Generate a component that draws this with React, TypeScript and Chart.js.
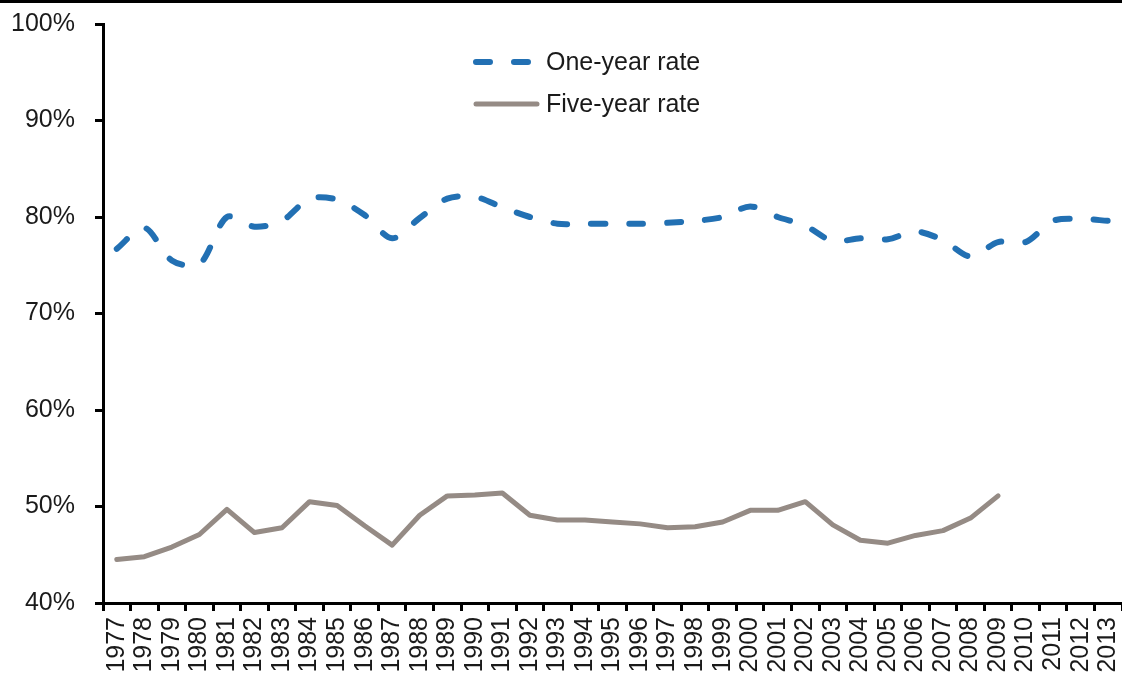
import React, { useEffect, useRef } from "react";
import { Chart, registerables } from "chart.js";

Chart.register(...registerables);

const years: string[] = [
  "1977","1978","1979","1980","1981","1982","1983","1984","1985","1986",
  "1987","1988","1989","1990","1991","1992","1993","1994","1995","1996",
  "1997","1998","1999","2000","2001","2002","2003","2004","2005","2006",
  "2007","2008","2009","2010","2011","2012","2013",
];

const oneYearRate: number[] = [
  76.7, 78.9, 75.5, 75.1, 80.0, 79.0, 79.6, 81.9, 81.8, 80.2,
  77.8, 79.9, 81.9, 82.1, 81.0, 80.0, 79.3, 79.3, 79.3, 79.3,
  79.4, 79.6, 80.0, 81.1, 80.0, 79.1, 77.5, 77.8, 77.7, 78.5,
  77.6, 75.9, 77.4, 77.4, 79.6, 79.8, 79.6,
];

const fiveYearRate: (number | null)[] = [
  44.5, 44.8, 45.8, 47.1, 49.7, 47.3, 47.8, 50.5, 50.1, 48.0,
  46.0, 49.1, 51.1, 51.2, 51.4, 49.1, 48.6, 48.6, 48.4, 48.2,
  47.8, 47.9, 48.4, 49.6, 49.6, 50.5, 48.1, 46.5, 46.2, 47.0,
  47.5, 48.8, 51.1, null, null, null, null,
];

const yTicks: number[] = [40, 50, 60, 70, 80, 90, 100];

const BLUE = "#2270b3";
const GREY = "#958b85";
const FONT = "'Liberation Sans', Arial, sans-serif";
const TEXT = "#1a1a1a";

const decorPlugin = {
  id: "decor",
  beforeDraw(chart: any) {
    const ctx = chart.ctx;
    ctx.save();
    ctx.fillStyle = "#000";
    ctx.fillRect(0, 0, chart.width, 3);
    ctx.restore();
  },
  afterDraw(chart: any) {
    const ctx = chart.ctx;
    const ds = chart.data.datasets;
    const x0 = 473;
    const rows = [
      { y: 62, x1: 532, ds: ds[0] },
      { y: 104, x1: 540, ds: ds[1] },
    ];
    ctx.save();
    rows.forEach((r) => {
      ctx.beginPath();
      ctx.lineWidth = r.ds.borderWidth;
      ctx.strokeStyle = r.ds.borderColor;
      ctx.lineCap = "round";
      ctx.setLineDash(r.ds.borderDash || []);
      ctx.moveTo(x0 + 3, r.y);
      ctx.lineTo(r.x1 - 3, r.y);
      ctx.stroke();
      ctx.setLineDash([]);
      ctx.fillStyle = TEXT;
      ctx.font = `25px ${FONT}`;
      ctx.textBaseline = "middle";
      ctx.textAlign = "left";
      ctx.fillText(r.ds.label, 546, r.y + 1);
    });
    ctx.restore();
  },
};

export default function App() {
  const ref = useRef<HTMLCanvasElement | null>(null);

  useEffect(() => {
    document.body.style.margin = "0";
    if (!ref.current) return;
    const chart = new Chart(ref.current, {
      type: "line",
      data: {
        labels: years,
        datasets: [
          {
            label: "One-year rate",
            data: oneYearRate,
            borderColor: BLUE,
            backgroundColor: BLUE,
            borderWidth: 6,
            borderDash: [14, 24],
            borderCapStyle: "round",
            pointRadius: 0,
            tension: 0.3,
          },
          {
            label: "Five-year rate",
            data: fiveYearRate,
            borderColor: GREY,
            backgroundColor: GREY,
            borderWidth: 5,
            borderCapStyle: "round",
            borderJoinStyle: "round",
            pointRadius: 0,
            tension: 0,
          },
        ],
      },
      options: {
        animation: false,
        responsive: false,
        layout: { padding: { top: 24, right: 0, left: 0, bottom: 0 } },
        plugins: {
          legend: { display: false },
          tooltip: { enabled: false },
        },
        scales: {
          x: {
            offset: true,
            grid: {
              offset: true,
              drawOnChartArea: false,
              drawTicks: true,
              tickLength: 8,
              color: "#000",
              lineWidth: 3,
            },
            border: { display: true, color: "#000", width: 3 },
            ticks: {
              autoSkip: false,
              maxRotation: 90,
              minRotation: 90,
              padding: 6,
              color: TEXT,
              font: { family: FONT, size: 25 },
            },
            afterFit(scale: any) {
              scale.height = 70;
              scale.paddingLeft = 0;
              scale.paddingRight = 0;
            },
          },
          y: {
            min: 40,
            max: 100,
            afterBuildTicks(scale: any) {
              scale.ticks = yTicks.map((v) => ({ value: v }));
            },
            grid: {
              drawOnChartArea: false,
              drawTicks: true,
              tickLength: 8,
              color: "#000",
              lineWidth: 3,
            },
            border: { display: true, color: "#000", width: 3 },
            ticks: {
              padding: 20,
              color: TEXT,
              font: { family: FONT, size: 25 },
              callback: (v: any) => `${v}%`,
            },
            afterFit(scale: any) {
              scale.width = 103;
              scale.paddingTop = 0;
              scale.paddingBottom = 0;
            },
          },
        },
      },
      plugins: [decorPlugin],
    } as any);
    return () => chart.destroy();
  }, []);

  return (
    <div style={{ width: 1122, height: 673, background: "#fff" }}>
      <canvas ref={ref} width={1122} height={673} style={{ display: "block" }} />
    </div>
  );
}
